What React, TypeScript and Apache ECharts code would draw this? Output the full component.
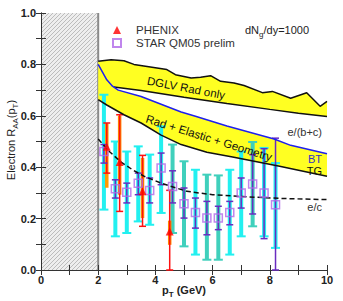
import React, { useEffect, useRef } from "react";
import * as echarts from "echarts";

// ---- STAR QM05 prelim ----
const starX = [2.2, 2.6, 3.0, 3.4, 3.8, 4.2, 4.6, 5.0, 5.4, 5.8, 6.2, 6.6, 7.0, 7.4, 7.8, 8.2];
const starY = [0.461, 0.316, 0.303, 0.338, 0.309, 0.397, 0.325, 0.258, 0.224, 0.202, 0.202, 0.224, 0.3, 0.335, 0.3, 0.254];
const starStatLo = [0.416, 0.28, 0.261, 0.293, 0.261, 0.332, 0.261, 0.202, 0.163, 0.137, 0.157, 0.176, 0.241, 0.218, 0.122, 0.0];
const starStatHi = [0.488, 0.351, 0.338, 0.377, 0.358, 0.455, 0.386, 0.319, 0.28, 0.267, 0.248, 0.267, 0.358, 0.449, 0.472, 0.513];
const starSysLo = [0.235, 0.131, 0.144, 0.189, 0.176, 0.222, 0.144, 0.092, 0.06, 0.04, 0.04, 0.06, 0.131, 0.17, 0.131, 0.086];
const starSysHi = [0.682, 0.5, 0.461, 0.481, 0.449, 0.559, 0.488, 0.423, 0.39, 0.371, 0.368, 0.39, 0.461, 0.498, 0.475, 0.416];
const starSysKind = [0, 0, 0, 0, 0, 0, 1, 1, 0, 1, 1, 0, 0, 1, 0, 0];

// ---- PHENIX ----
const phenixX = [2.3, 2.75, 3.55, 4.5];
const phenixY = [0.48, 0.42, 0.306, 0.15];
const phenixStatLo = [0.377, 0.228, 0.17, 0.0];
const phenixStatHi = [0.572, 0.604, 0.446, 0.31];
const phenixSysLo = [0.32, 0.293, 0.202, 0.098];
const phenixSysHi = [0.57, 0.6, 0.436, 0.192];

// ---- theory curves ----
const dglvTopX = [2.0, 2.45, 2.9, 3.25, 4.4, 4.7, 5.25, 5.58, 5.93, 6.28, 6.75, 7.1, 7.74, 8.09, 8.73, 9.29, 9.76, 10.0];
const dglvTopY = [0.812, 0.818, 0.814, 0.8, 0.78, 0.76, 0.747, 0.75, 0.756, 0.734, 0.728, 0.718, 0.69, 0.695, 0.668, 0.69, 0.637, 0.656];
const dglvLowX = [2.55, 3.5, 5.0, 6.5, 8.0, 9.0, 10.0];
const dglvLowY = [0.712, 0.698, 0.672, 0.648, 0.625, 0.61, 0.597];
const btX = [2.0, 2.15, 2.3, 2.5, 2.7, 3.5, 4.9, 5.4, 6.5, 8.15, 8.73, 10.0];
const btY = [0.8, 0.77, 0.74, 0.715, 0.7, 0.675, 0.615, 0.598, 0.56, 0.51, 0.485, 0.452];
const tgX = [2.0, 2.3, 2.9, 3.5, 4.2, 4.9, 5.8, 6.7, 8.3, 10.0];
const tgY = [0.663, 0.642, 0.604, 0.572, 0.525, 0.488, 0.458, 0.44, 0.405, 0.365];
const ecX = [2.0, 2.4, 2.8, 3.2, 3.6, 4.2, 5.1, 6.0, 7.5, 8.5, 10.0];
const ecY = [0.51, 0.46, 0.42, 0.39, 0.365, 0.338, 0.306, 0.293, 0.283, 0.278, 0.274];

const FONT = "'Liberation Sans', Arial, Helvetica, sans-serif";
const YELLOW = "#ffff22";

function bandSeries(ux: number[], uy: number[], lx: number[], ly: number[]) {
  return {
    type: "custom",
    silent: true,
    z: 1,
    data: [[ux[0], uy[0]]],
    encode: { x: 0, y: 1 },
    renderItem: (_p: any, api: any) => {
      const pts: number[][] = [];
      ux.forEach((x, i) => pts.push(api.coord([x, uy[i]])));
      for (let i = lx.length - 1; i >= 0; i--) pts.push(api.coord([lx[i], ly[i]]));
      return { type: "polygon", shape: { points: pts }, style: { fill: YELLOW } };
    },
  };
}

function barSeries(
  xs: number[], lo: number[], hi: number[], kinds: number[], colors: string[],
  lw: number, capW: number, capLW: number, z: number
) {
  return {
    type: "custom",
    silent: true,
    z,
    data: xs.map((x, i) => [x, lo[i], hi[i], kinds[i]]),
    encode: { x: 0, y: [1, 2] },
    renderItem: (_p: any, api: any) => {
      const x = api.value(0);
      const a = api.coord([x, api.value(1)]);
      const b = api.coord([x, api.value(2)]);
      const c = colors[api.value(3)];
      return {
        type: "group",
        children: [
          { type: "line", shape: { x1: a[0], y1: a[1], x2: b[0], y2: b[1] }, style: { stroke: c, lineWidth: lw } },
          { type: "line", shape: { x1: a[0] - capW / 2, y1: a[1], x2: a[0] + capW / 2, y2: a[1] }, style: { stroke: c, lineWidth: capLW } },
          { type: "line", shape: { x1: b[0] - capW / 2, y1: b[1], x2: b[0] + capW / 2, y2: b[1] }, style: { stroke: c, lineWidth: capLW } },
        ],
      };
    },
  };
}

function lineSeries(xs: number[], ys: number[], color: string, dashed = false) {
  return {
    type: "line",
    silent: true,
    z: 5,
    symbol: "none",
    data: xs.map((x, i) => [x, ys[i]]),
    lineStyle: { color, width: 1.5, type: dashed ? [5, 3] : "solid" },
  };
}

export default function App() {
  const ref = useRef<HTMLDivElement>(null);
  useEffect(() => {
    if (!ref.current) return;
    const chart = echarts.init(ref.current, undefined, { renderer: "svg" });
    const axisCommon = {
      type: "value",
      axisLine: { show: true, lineStyle: { color: "#333", width: 1 } },
      axisTick: { show: true, inside: true, length: 5, lineStyle: { color: "#333" } },
      splitLine: { show: false },
    };
    const yLabel = (v: number) => (Math.round(v * 10) % 2 === 0 ? v.toFixed(1) : "");
    const xLabel = (v: number) => (Math.round(v) % 2 === 0 ? String(Math.round(v)) : "");
    chart.setOption({
      animation: false,
      backgroundColor: "#fff",
      grid: { left: 41, right: 16, top: 13, bottom: 31, containLabel: false },
      xAxis: [
        {
          ...axisCommon, min: 0, max: 10, interval: 1, position: "bottom",
          axisLabel: { formatter: xLabel, fontFamily: FONT, fontSize: 11, fontWeight: "bold", color: "#222", margin: 4 },
        },
        { ...axisCommon, min: 0, max: 10, interval: 1, position: "top", axisLabel: { show: false } },
      ],
      yAxis: [
        {
          ...axisCommon, min: 0, max: 1, interval: 0.1, position: "left",
          axisLabel: { formatter: yLabel, fontFamily: FONT, fontSize: 11, fontWeight: "bold", color: "#222", margin: 5 },
        },
        { ...axisCommon, min: 0, max: 1, interval: 0.1, position: "right", axisLabel: { show: false } },
      ],
      legend: {
        orient: "vertical",
        left: 107,
        top: 19,
        itemGap: 1,
        itemWidth: 8,
        itemHeight: 8,
        data: ["PHENIX", "STAR QM05 prelim"],
        textStyle: { fontFamily: FONT, fontSize: 11.5, color: "#333", lineHeight: 12, padding: [0, 0, 0, 10] },
      },
      series: [
        {
          type: "custom",
          silent: true,
          z: 0,
          data: [[0, 0]],
          encode: { x: 0, y: 1 },
          renderItem: (_p: any, api: any) => {
            const a = api.coord([0, 1]);
            const b = api.coord([2, 0]);
            const x0 = a[0], y0 = a[1], x1 = b[0], y1 = b[1];
            const children: any[] = [
              { type: "rect", shape: { x: x0, y: y0, width: x1 - x0, height: y1 - y0 }, style: { fill: "#eeeeee" } },
            ];
            for (let c = x0 + y0; c <= x1 + y1; c += 4) {
              const sx = Math.max(x0, c - y1);
              const ex = Math.min(x1, c - y0);
              if (ex > sx) {
                children.push({ type: "line", shape: { x1: sx, y1: c - sx, x2: ex, y2: c - ex }, style: { stroke: "#bcbcbc", lineWidth: 1 } });
              }
            }
            children.push({ type: "line", shape: { x1: x1, y1: y0, x2: x1, y2: y1 }, style: { stroke: "#8a8a8a", lineWidth: 2 } });
            return { type: "group", children };
          },
        },
        bandSeries(dglvTopX, dglvTopY, btX.slice(0, 4).concat(dglvLowX), btY.slice(0, 4).concat(dglvLowY)),
        bandSeries(btX, btY, tgX, tgY),
        barSeries(starX, starSysLo, starSysHi, starSysKind, ["#22f0f0", "#40d0bc"], 4, 9, 2, 2),
        barSeries(phenixX, phenixSysLo, phenixSysHi, [0, 1, 0, 1], ["#ff9a00", "#ff8a00"], 3.5, 0, 0, 3),
        barSeries(phenixX, phenixStatLo, phenixStatHi, [0, 0, 0, 0], ["#ff1010"], 1.5, 7, 1.5, 3),
        barSeries(starX, starStatLo, starStatHi, starX.map(() => 0), ["#6a2cc0"], 1.5, 7, 1.5, 4),
        lineSeries(dglvTopX, dglvTopY, "#111"),
        lineSeries(dglvLowX, dglvLowY, "#111"),
        lineSeries(tgX, tgY, "#111"),
        lineSeries(btX, btY, "#1f1fee"),
        lineSeries(ecX, ecY, "#111", true),
        {
          name: "STAR QM05 prelim",
          type: "scatter",
          z: 6,
          symbol: "rect",
          symbolSize: 8,
          data: starX.map((x, i) => [x, starY[i]]),
          itemStyle: { color: "rgba(255,255,255,0)", borderColor: "#b068e8", borderWidth: 1.5 },
        },
        {
          name: "PHENIX",
          type: "scatter",
          z: 6,
          symbol: "triangle",
          symbolSize: 8,
          data: phenixX.map((x, i) => [x, phenixY[i]]),
          itemStyle: { color: "#ff0000" },
        },
      ],
      graphic: [
        {
          type: "text", x: 245, y: 30, z: 100,
          style: {
            text: "{n|dN}{s|g}{n|/dy=1000}", fill: "#222", textVerticalAlign: "middle",
            rich: {
              n: { fontFamily: FONT, fontSize: 11, lineHeight: 16, verticalAlign: "middle", fill: "#222" },
              s: { fontFamily: FONT, fontSize: 8, lineHeight: 8, verticalAlign: "bottom", fill: "#222" },
            },
          },
        },
        {
          type: "text", x: 186, y: 88, rotation: -0.19, z: 100,
          style: { text: "DGLV Rad only", fontFamily: FONT, fontSize: 11.5, fill: "#111", textAlign: "center", textVerticalAlign: "middle" },
        },
        {
          type: "text", x: 209, y: 138, rotation: -0.3, z: 100,
          style: { text: "Rad + Elastic + Geometry", fontFamily: FONT, fontSize: 11.5, fill: "#111", textAlign: "center", textVerticalAlign: "middle" },
        },
        {
          type: "text", x: 322, y: 132, z: 100,
          style: { text: "e/(b+c)", fontFamily: FONT, fontSize: 11, fill: "#333", textAlign: "right", textVerticalAlign: "middle" },
        },
        {
          type: "text", x: 322, y: 159, z: 100,
          style: { text: "BT", fontFamily: FONT, fontSize: 11, fill: "#3030c8", textAlign: "right", textVerticalAlign: "middle" },
        },
        {
          type: "text", x: 322, y: 171, z: 100,
          style: { text: "TG", fontFamily: FONT, fontSize: 11, fill: "#111", textAlign: "right", textVerticalAlign: "middle" },
        },
        {
          type: "text", x: 322, y: 207, z: 100,
          style: { text: "e/c", fontFamily: FONT, fontSize: 11, fill: "#333", textAlign: "right", textVerticalAlign: "middle" },
        },
        {
          type: "text", x: 184, y: 290, z: 100,
          style: {
            text: "{b|p}{s|T}{b| (GeV)}", textAlign: "center", textVerticalAlign: "middle",
            rich: {
              b: { fontFamily: FONT, fontSize: 11, fontWeight: "bold", lineHeight: 16, verticalAlign: "middle", fill: "#222" },
              s: { fontFamily: FONT, fontSize: 8, fontWeight: "bold", lineHeight: 8, verticalAlign: "bottom", fill: "#222" },
            },
          },
        },
        {
          type: "text", x: 11, y: 140, rotation: Math.PI / 2, z: 100,
          style: {
            text: "{n|Electron R}{s|AA}{n|(p}{s|T}{n|)}", textAlign: "center", textVerticalAlign: "middle",
            rich: {
              n: { fontFamily: FONT, fontSize: 11, lineHeight: 16, verticalAlign: "middle", fill: "#222" },
              s: { fontFamily: FONT, fontSize: 8, lineHeight: 8, verticalAlign: "bottom", fill: "#222" },
            },
          },
        },
      ],
    });
    return () => chart.dispose();
  }, []);
  return (
    <div
      ref={ref}
      style={{ position: "absolute", left: 0, top: 0, width: 343, height: 301 }}
    />
  );
}
